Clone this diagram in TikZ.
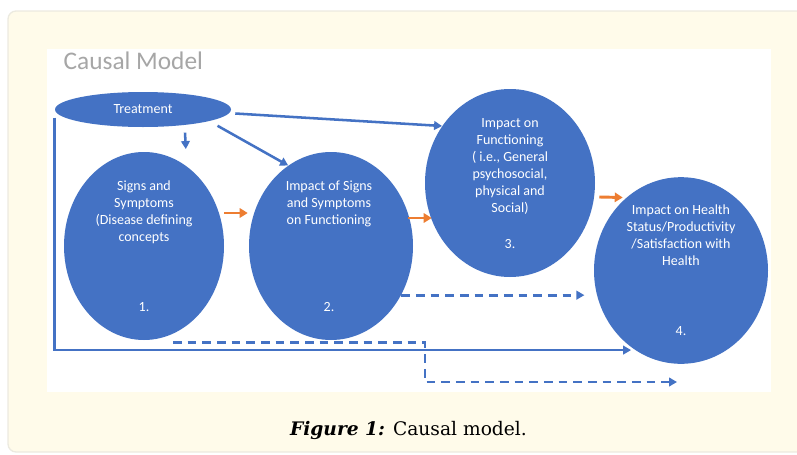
\documentclass[tikz,border=0pt]{standalone}
\usepackage{fontspec}
\setmainfont{Carlito}
\newfontfamily\capfont{DejaVu Serif}
\usetikzlibrary{arrows.meta,positioning,shapes.geometric}
\definecolor{ofblue}{HTML}{4472C4}
\definecolor{oforange}{HTML}{ED7D31}
\definecolor{cream}{HTML}{FFFBEA}
\definecolor{panelrim}{HTML}{ECEAE0}

\begin{document}
\begin{tikzpicture}[
  x=0.75pt, y=-0.75pt,
  bubble/.style={ellipse, fill=ofblue, inner sep=0pt, text=white, font=\fontsize{10.5}{12}\selectfont},
  txt/.style={text=white, align=center, font=\fontsize{10.5}{12.75}\selectfont},
  barr/.style={draw=ofblue, line width=1.9pt, -{Triangle[length=6pt,width=6.5pt]}},
  darr/.style={barr, line width=2.2pt, dash pattern=on 6.5pt off 4.5pt},
  oarr/.style={draw=oforange, line width=2.2pt, -{Triangle[length=6pt,width=7pt]}}
]
\useasboundingbox (0,0) rectangle (797,454);
\draw[fill=cream, draw=panelrim, line width=1pt, rounded corners=6pt] (8,11) rectangle (815,452);
\fill[white] (47,49) rectangle (771,392);
\node[anchor=west, text=black!35, font=\fontsize{19}{22}\selectfont] (title) at (59,61) {Causal Model};

\node[bubble, minimum width=132pt, minimum height=26.25pt] (treat) at (143,109.5) {Treatment};
\node[bubble, minimum width=120pt, minimum height=141pt] (e1) at (144,246) {};
\node[bubble, minimum width=123pt, minimum height=141pt] (e2) at (331,246) {};
\node[bubble, minimum width=127.5pt, minimum height=141pt] (e3) at (510,183) {};
\node[bubble, minimum width=130.5pt, minimum height=140pt] (e4) at (681,270.5) {};

\node[txt] (t1) at (144,212) {Signs and\\Symptoms\\(Disease defining\\concepts};
\node[txt] (n1) at (144,307) {1.};
\node[txt] (t2) at (329,203.5) {Impact of Signs\\and Symptoms\\on Functioning};
\node[txt] (n2) at (329,307) {2.};
\node[txt] (t3) at (510,166) {Impact on\\Functioning\\( i.e., General\\psychosocial,\\physical and\\Social)};
\node[txt] (n3) at (510,244) {3.};
\node[txt] (t4) at (681,235.5) {Impact on Health\\Status/Productivity\\/Satisfaction with\\Health};
\node[txt] (n4) at (681,331) {4.};

\coordinate (dbend) at (425,382);
\coordinate (dend) at (677,382);

\draw[barr] ([shift={(3pt,-3pt)}]treat.east) -- (e3.140);
\draw[barr, shorten >=2pt] ([shift={(31.5pt,-4pt)}]treat.south) -- ([xshift=31.5pt]e1.north);
\draw[barr, shorten <=7pt] (treat.-10) -- (e2.118);
\draw[barr, shorten >=3pt] ([yshift=-6pt]treat.west) |- (e4.240);
\draw[oarr] ([yshift=24.75pt]e1.east) -- ([shift={(-0.75pt,24.75pt)}]e2.west);
\draw[oarr] ([shift={(-3.75pt,21pt)}]e2.east) -- ([shift={(5.25pt,-26.25pt)}]e3.west);
\draw[oarr] ([shift={(3pt,-10.5pt)}]e3.east) -- ([shift={(21.75pt,54.75pt)}]e4.west);
\draw[darr, shorten >=7pt] (e2.-35) -- (e2.-35 -| e4.west);
\draw[darr] ([shift={(21.75pt,-1.5pt)}]e1.south) -| (dbend) -- (dend);

\node[font=\capfont\fontsize{14}{16}\selectfont] (caption) at (408.5,430) {\textbf{\textit{Figure 1:}} Causal model.};
\end{tikzpicture}
\end{document}
